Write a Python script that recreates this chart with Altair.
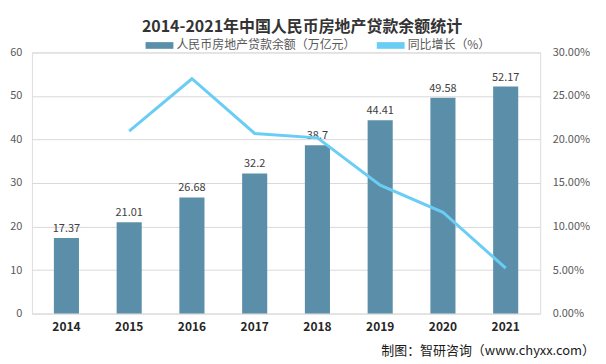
import altair as alt
import pandas as pd

years = ["2014", "2015", "2016", "2017", "2018", "2019", "2020", "2021"]
balance = [17.37, 21.01, 26.68, 32.2, 38.7, 44.41, 49.58, 52.17]
growth = [None, 0.2096, 0.2698, 0.2069, 0.2019, 0.1475, 0.1164, 0.0522]
bar_name = "人民币房地产贷款余额（万亿元）"
line_name = "同比增长（%）"
title_text = "2014-2021年中国人民币房地产贷款余额统计"
source_text = "制图：智研咨询（www.chyxx.com）"
left_ticks = [0, 10, 20, 30, 40, 50, 60]
right_ticks = [0, 0.05, 0.10, 0.15, 0.20, 0.25, 0.30]

FONT = "Noto Sans CJK SC"
BAR_C = "#5B8FA9"
LINE_C = "#6ACDF5"

df = pd.DataFrame({"year": years, "balance": balance, "growth": growth,
                   "bar_s": bar_name, "line_s": line_name})
df_label = df.assign(lbl=[str(v) for v in balance])

color_scale = alt.Scale(domain=[bar_name, line_name], range=[BAR_C, LINE_C])
legend = alt.Legend(title=None, orient="none", direction="horizontal",
                    legendX=114, legendY=-21, labelFont=FONT, labelFontSize=12,
                    labelColor="#595959", symbolType="M-1,-0.24H1V0.24H-1Z",
                    symbolSize=780, columnPadding=20, labelLimit=300,
                    labelOffset=3, symbolStrokeWidth=0)

x_enc = alt.X("year:N", sort=years,
              scale=alt.Scale(paddingInner=0.6, paddingOuter=0.35),
              axis=alt.Axis(title=None, labelAngle=0, labelFontWeight="bold",
                            labelFontSize=12, labelColor="#262626", labelFont=FONT,
                            domain=False, ticks=False, labelPadding=8))

y_left = alt.Y("balance:Q", scale=alt.Scale(domain=[0, 60]),
               axis=alt.Axis(title=None, values=left_ticks, grid=True,
                             gridColor="#D9D9D9", domain=False, ticks=False,
                             labelColor="#595959", labelFontSize=11, labelFont=FONT,
                             labelPadding=10))

bars = alt.Chart(df).mark_bar().encode(
    x=x_enc, y=y_left,
    color=alt.Color("bar_s:N", scale=color_scale, legend=legend),
)

labels = alt.Chart(df_label).mark_text(dy=-9, fontSize=11, color="#404040", font=FONT).encode(
    x=x_enc, y=y_left, text="lbl:N"
)

left = alt.layer(bars, labels)

line = alt.Chart(df.dropna()).mark_line(strokeWidth=3).encode(
    x=x_enc,
    y=alt.Y("growth:Q", scale=alt.Scale(domain=[0, 0.3]),
            axis=alt.Axis(title=None, orient="right", values=right_ticks, format=".2%",
                          grid=False, domain=False, ticks=False,
                          labelColor="#595959", labelFontSize=11, labelFont=FONT,
                          labelPadding=12)),
    color=alt.Color("line_s:N", scale=color_scale, legend=legend),
)

src = alt.Chart(pd.DataFrame({"t": [source_text]})).mark_text(
    align="right", baseline="middle", fontSize=13, color="#1a1a1a", font=FONT
).encode(x=alt.value(565), y=alt.value(300), text="t:N")

chart = alt.layer(left, line, src).resolve_scale(y="independent").properties(
    width=510, height=262,
    autosize=alt.AutoSizeParams(type="none"),
    padding={"left": 24, "top": 44, "right": 58, "bottom": 50},
    title=alt.Title(title_text, font=FONT, fontSize=16, fontWeight="bold",
                    color="#333333", anchor="middle", dx=16, offset=-3),
).configure_view(stroke=None).configure(background="white")

chart.save("out.html", embed_options={"renderer": "svg", "actions": False})
